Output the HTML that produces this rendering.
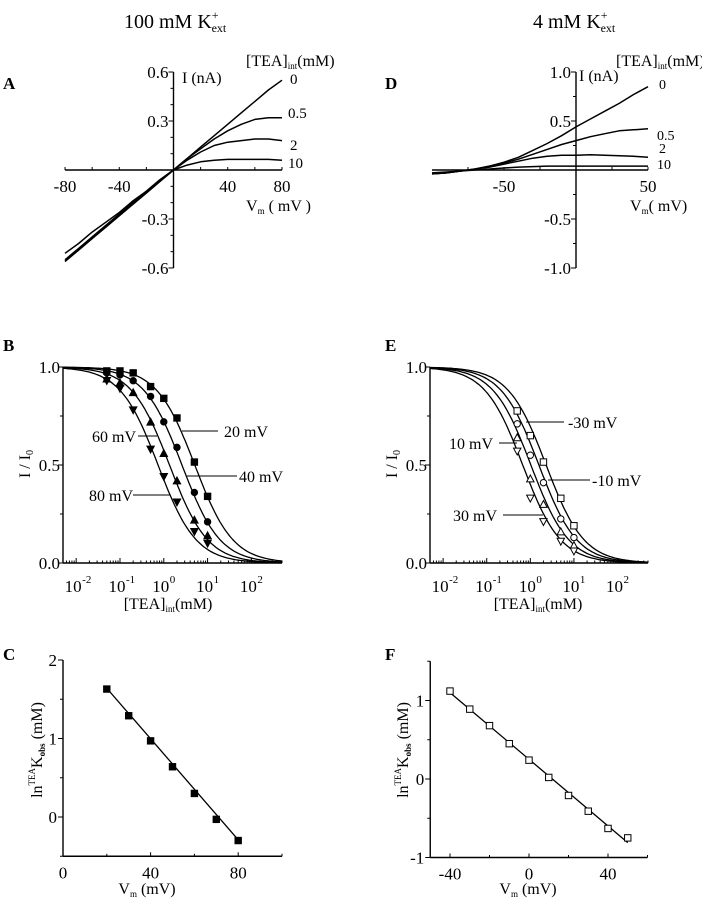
<!DOCTYPE html>
<html><head><meta charset="utf-8"><style>
html,body{margin:0;padding:0;background:#fff;}
svg{display:block;font-family:"Liberation Serif",serif;}
text{fill:#000;}
</style></head><body>
<svg id="fig" width="702" height="900" viewBox="0 0 702 900" xmlns="http://www.w3.org/2000/svg">
<text x="124" y="28" font-size="20">100 mM K<tspan font-size="12" dy="-9">+</tspan><tspan font-size="12" dy="13" dx="-7">ext</tspan></text>
<text x="533" y="28" font-size="20">4 mM K<tspan font-size="12" dy="-9">+</tspan><tspan font-size="12" dy="13" dx="-7">ext</tspan></text>
<text x="3" y="89" font-size="17" font-weight="bold">A</text>
<text x="385" y="89" font-size="17" font-weight="bold">D</text>
<text x="3" y="351" font-size="17" font-weight="bold">B</text>
<text x="385" y="351" font-size="17" font-weight="bold">E</text>
<text x="3" y="660" font-size="17" font-weight="bold">C</text>
<text x="385" y="660" font-size="17" font-weight="bold">F</text>
<text x="246" y="66" font-size="16">[TEA]<tspan font-size="9" dy="3">int</tspan><tspan dy="-3">(mM)</tspan></text>
<text x="182" y="83" font-size="16">I (nA)</text>
<text x="246" y="211" font-size="16">V<tspan font-size="9" dy="3">m</tspan><tspan dy="-3"> ( mV )</tspan></text>
<text x="290" y="84" font-size="15">0</text>
<text x="288" y="118" font-size="15">0.5</text>
<text x="290" y="150" font-size="15">2</text>
<text x="288" y="168" font-size="15">10</text>
<text x="616" y="66" font-size="16">[TEA]<tspan font-size="9" dy="3">int</tspan><tspan dy="-3">(mM)</tspan></text>
<text x="579" y="81" font-size="16">I (nA)</text>
<text x="630" y="211" font-size="16">V<tspan font-size="9" dy="3">m</tspan><tspan dy="-3">( mV)</tspan></text>
<text x="659" y="89" font-size="14">0</text>
<text x="657" y="140" font-size="14">0.5</text>
<text x="659" y="153" font-size="14">2</text>
<text x="657" y="169" font-size="14">10</text>
<text transform="translate(30,464) rotate(-90)" text-anchor="middle" font-size="16">I / I<tspan font-size="10" dy="3">0</tspan></text>
<text x="168" y="609" text-anchor="middle" font-size="16">[TEA]<tspan font-size="9" dy="3">int</tspan><tspan dy="-3">(mM)</tspan></text>
<text x="224" y="437" font-size="16">20 mV</text>
<text x="239" y="482" font-size="16">40 mV</text>
<text x="92" y="442" font-size="16">60 mV</text>
<text x="89" y="501" font-size="16">80 mV</text>
<text transform="translate(397,464) rotate(-90)" text-anchor="middle" font-size="16">I / I<tspan font-size="10" dy="3">0</tspan></text>
<text x="538" y="609" text-anchor="middle" font-size="16">[TEA]<tspan font-size="9" dy="3">int</tspan><tspan dy="-3">(mM)</tspan></text>
<text x="568" y="428" font-size="16">-30 mV</text>
<text x="449" y="449" font-size="16">10 mV</text>
<text x="592" y="486" font-size="16">-10 mV</text>
<text x="453" y="521" font-size="16">30 mV</text>
<text transform="translate(42,750) rotate(-90)" text-anchor="middle" font-size="16">ln<tspan font-size="9" dy="-7">TEA</tspan><tspan dy="7">K</tspan><tspan font-size="9" dy="3" font-weight="bold">obs</tspan><tspan dy="-3"> (mM)</tspan></text>
<text x="147" y="894" text-anchor="middle" font-size="16">V<tspan font-size="9" dy="3">m</tspan><tspan dy="-3"> (mV)</tspan></text>
<text transform="translate(408,750) rotate(-90)" text-anchor="middle" font-size="16">ln<tspan font-size="9" dy="-7">TEA</tspan><tspan dy="7">K</tspan><tspan font-size="9" dy="3" font-weight="bold">obs</tspan><tspan dy="-3"> (mM)</tspan></text>
<text x="528" y="894" text-anchor="middle" font-size="16">V<tspan font-size="9" dy="3">m</tspan><tspan dy="-3"> (mV)</tspan></text>
</svg>
<script>
// ---- Panel A data ----
const aVolt = [-80,-70,-60,-50,-40,-30,-20,-10,0,10,20,30,40,50,60,70,80];
const aCurve0 = [-0.51,-0.45,-0.38,-0.32,-0.26,-0.19,-0.13,-0.06,0,0.07,0.14,0.21,0.28,0.35,0.42,0.49,0.55];
const aCurve05 = [-0.56,-0.49,-0.42,-0.35,-0.28,-0.21,-0.14,-0.07,0,0.07,0.13,0.19,0.24,0.28,0.31,0.32,0.32];
const aCurve2 = [-0.56,-0.49,-0.42,-0.35,-0.28,-0.21,-0.14,-0.07,0,0.06,0.11,0.15,0.17,0.18,0.19,0.19,0.18];
const aCurve10 = [-0.55,-0.48,-0.41,-0.34,-0.27,-0.2,-0.13,-0.06,0,0.03,0.05,0.06,0.065,0.065,0.065,0.065,0.06];
const aXTicks = ["-80","-40","40","80"];
const aYTicks = ["0.6","0.3","-0.3","-0.6"];
// ---- Panel D data ----
const dVolt = [-100,-90,-80,-70,-60,-50,-40,-30,-20,-10,0,10,20,30,40,50];
const dCurve0 = [-0.04,-0.03,-0.01,0.01,0.04,0.08,0.13,0.2,0.27,0.35,0.44,0.52,0.6,0.68,0.77,0.85];
const dCurve05 = [-0.04,-0.03,-0.01,0.01,0.04,0.07,0.11,0.16,0.21,0.26,0.30,0.34,0.37,0.40,0.41,0.42];
const dCurve2 = [-0.04,-0.03,-0.01,0.01,0.03,0.06,0.09,0.12,0.14,0.15,0.15,0.155,0.15,0.145,0.14,0.13];
const dCurve10 = [-0.03,-0.02,-0.01,0.0,0.01,0.02,0.03,0.035,0.04,0.04,0.04,0.04,0.04,0.04,0.04,0.04];
const dXTicks = ["-50","50"];
const dYTicks = ["1.0","0.5","-0.5","-1.0"];
// ---- Panel B data ----
const bConc = [0.05,0.1,0.2,0.5,1,2,5,10];
const b20 = [0.98,0.98,0.97,0.90,0.84,0.74,0.515,0.34];
const b40 = [0.97,0.96,0.93,0.85,0.72,0.59,0.36,0.21];
const b60 = [0.94,0.92,0.87,0.72,0.56,0.42,0.22,0.14];
const b80 = [0.93,0.89,0.78,0.58,0.44,0.31,0.16,0.10];
const bK = [5.1,2.6,1.35,0.74];
// ---- Panel E data ----
const eConc = [0.5,1,2,5,10];
const eM30 = [0.776,0.65,0.515,0.33,0.19];
const eM10 = [0.71,0.55,0.41,0.225,0.13];
const eP10 = [0.64,0.43,0.30,0.16,0.09];
const eP30 = [0.57,0.33,0.21,0.11,0.06];
const eK = [2.3,1.57,1.03,0.67];
const logTicks = ["-2","-1","0","1","2"];
const yTicks01 = ["1.0","0.5","0.0"];
// ---- Panel C data ----
const cVolt = [20,30,40,50,60,70,80];
const cLnK = [1.63,1.29,0.97,0.64,0.30,-0.03,-0.30];
const cFit = [1.64,-0.29];
const cXTicks = ["0","40","80"];
const cYTicks = ["2","1","0"];
// ---- Panel F data ----
const fVolt = [-40,-30,-20,-10,0,10,20,30,40,50];
const fLnK = [1.12,0.89,0.68,0.45,0.24,0.02,-0.21,-0.41,-0.63,-0.75];
const fFit = [1.10,-0.81];
const fXTicks = ["-40","0","40"];
const fYTicks = ["1","0","-1"];

const NS = "http://www.w3.org/2000/svg";
const svg = document.getElementById('fig');
function mk(tag, name, parent){
  const el = document.createElementNS(NS, tag);
  
  
  (parent || svg).appendChild(el);
  return el;
}
function ln(x1,y1,x2,y2,name,w){
  const l = mk('line', name);
  l.setAttribute('x1',x1); l.setAttribute('y1',y1); l.setAttribute('x2',x2); l.setAttribute('y2',y2);
  l.setAttribute('stroke','#000'); l.setAttribute('stroke-width', w||1.4);
  return l;
}
function tx(x,y,s,name,anchor,size){
  const t = mk('text', name);
  t.setAttribute('x',x); t.setAttribute('y',y);
  t.setAttribute('text-anchor',anchor||'middle');
  t.setAttribute('font-size',size||17);
  t.textContent = s;
  return t;
}
function poly(pts,name,w){
  const p = mk('polyline', name);
  p.setAttribute('points', pts.map(q=>q[0].toFixed(1)+','+q[1].toFixed(1)).join(' '));
  p.setAttribute('fill','none'); p.setAttribute('stroke','#000'); p.setAttribute('stroke-width', w||1.4);
  p.setAttribute('stroke-linejoin','round');
  return p;
}
function marker(type, x, y, filled, name){
  const s = 3.2;
  let el;
  if(type==='sq'){ el = mk('rect', name); el.setAttribute('x',x-s); el.setAttribute('y',y-s); el.setAttribute('width',2*s); el.setAttribute('height',2*s); }
  else if(type==='ci'){ el = mk('circle', name); el.setAttribute('cx',x); el.setAttribute('cy',y); el.setAttribute('r',s); }
  else if(type==='tu'){ el = mk('polygon', name); el.setAttribute('points',`${x},${y-s-0.5} ${x+s+0.5},${y+s} ${x-s-0.5},${y+s}`); }
  else { el = mk('polygon', name); el.setAttribute('points',`${x},${y+s+0.5} ${x+s+0.5},${y-s} ${x-s-0.5},${y-s}`); }
  el.setAttribute('fill', filled ? '#000' : '#fff');
  el.setAttribute('stroke','#000'); el.setAttribute('stroke-width', 1);
}

// ===== Panel A =====
const xA = v => 173.5 + v*1.356;
const yA = i => 170 - i*163.3;
ln(xA(-80),yA(0),xA(80),yA(0),'a-x-axis');
ln(xA(0),yA(0.6),xA(0),yA(-0.6),'a-y-axis');
for(let v=-80; v<=80; v+=20){ if(v!==0) ln(xA(v),yA(0),xA(v),yA(0)-3,'a-x-tick',1); }
for(let k=-6; k<=6; k++){ if(k!==0) ln(xA(0),yA(k/10),xA(0)-(k%3===0?5:3),yA(k/10),'a-y-tick',1); }
aXTicks.forEach(s=>tx(xA(+s),yA(0)+22,s,'a-x-tick-label'));
aYTicks.forEach(s=>tx(xA(0)-5,yA(+s)+6,s,'a-y-tick-label','end'));
[[aCurve0,'a-curve-0'],[aCurve05,'a-curve-0.5'],[aCurve2,'a-curve-2'],[aCurve10,'a-curve-10']].forEach(([d,n])=>{
  poly(aVolt.map((v,i)=>[xA(v),yA(d[i])]), n, 1.5);
});

// ===== Panel D =====
const xD = v => 576 + v*1.44;
const yD = i => 170 - i*98;
ln(xD(-100),yD(0),xD(50),yD(0),'d-x-axis');
ln(xD(0),yD(1),xD(0),yD(-1),'d-y-axis');
for(let v=-75; v<=50; v+=25){ if(v!==0) ln(xD(v),yD(0),xD(v),yD(0)-3,'d-x-tick',1); }
for(let k=-4; k<=4; k++){ if(k!==0) ln(xD(0),yD(k/4),xD(0)-(k%2===0?5:3),yD(k/4),'d-y-tick',1); }
dXTicks.forEach(s=>tx(xD(+s),yD(0)+22,s,'d-x-tick-label'));
dYTicks.forEach(s=>tx(xD(0)-5,yD(+s)+6,s,'d-y-tick-label','end'));
[[dCurve0,'d-curve-0'],[dCurve05,'d-curve-0.5'],[dCurve2,'d-curve-2'],[dCurve10,'d-curve-10']].forEach(([d,n])=>{
  poly(dVolt.map((v,i)=>[xD(v),yD(d[i])]), n, 1.5);
});

// ===== Log panels B & E =====
function logPanel(pfx, x0, dec, conc, series, Ks, types, filled){
  const X = c => x0 + Math.log10(c/0.005)*dec;
  const Y = r => 563 - r*196;
  ln(x0, Y(0), X(500), Y(0), pfx+'-x-axis');
  ln(x0, Y(0), x0, Y(1), pfx+'-y-axis');
  for(let e=-3; e<=2; e++){
    for(let m=1; m<=9; m++){
      const c = m*Math.pow(10,e);
      if(c < 0.005-1e-9 || c > 500+1e-9) continue;
      ln(X(c), Y(0), X(c), Y(0)-(m===1?5:2.5), pfx+'-x-tick', 1);
    }
  }
  [0,0.25,0.5,0.75,1].forEach(r=>ln(x0, Y(r), x0-(r%0.5===0?5:3), Y(r), pfx+'-y-tick', 1));
  logTicks.forEach(s=>{
    const x = X(Math.pow(10,+s));
    tx(x-3, Y(0)+29, '10', pfx+'-x-tick-label', 'middle', 17);
    tx(x+6, Y(0)+20, s, pfx+'-x-tick-exponent', 'start', 11);
  });
  yTicks01.forEach(s=>tx(x0-3, Y(+s)+6, s, pfx+'-y-tick-label', 'end'));
  Ks.forEach((K,k)=>{
    const pts = [];
    for(let i=0;i<=120;i++){ const c = 0.005*Math.pow(10, i/120*5); pts.push([X(c), Y(1/(1+c/K))]); }
    poly(pts, pfx+'-fit-curve', 1.3);
  });
  series.forEach((d,k)=>{
    d.forEach((r,i)=>marker(types[k], X(conc[i]), Y(r), filled, pfx+'-data-point'));
  });
}
logPanel('b', 63, 43.8, bConc, [b20,b40,b60,b80], bK, ['sq','ci','tu','td'], true);
logPanel('e', 430, 43.6, eConc, [eM30,eM10,eP10,eP30], eK, ['sq','ci','tu','td'], false);
ln(182,431,218,431,'b-leader-20mV',1); ln(187,476,237,476,'b-leader-40mV',1);
ln(138,436,157,436,'b-leader-60mV',1); ln(133,495,170,495,'b-leader-80mV',1);
ln(526,422,564,422,'e-leader-minus30mV',1); ln(499,443,517,443,'e-leader-10mV',1);
ln(548,480,590,480,'e-leader-minus10mV',1); ln(503,515,543,515,'e-leader-30mV',1);

// ===== Panel C =====
const xC = v => 63 + v*2.19;
const yC = k => 817 - k*78.5;
ln(xC(0), yC(-0.5), xC(100), yC(-0.5), 'c-x-axis');
ln(xC(0), yC(-0.5), xC(0), yC(2), 'c-y-axis');
[20,40,60,80,100].forEach(v=>ln(xC(v), yC(-0.5), xC(v), yC(-0.5)-(v%40===0?4:2.5), 'c-x-tick', 1));
[-0.5,0,0.5,1,1.5,2].forEach(k=>ln(xC(0), yC(k), xC(0)-(k%1===0?5:3), yC(k), 'c-y-tick', 1));
cXTicks.forEach(s=>tx(xC(+s), yC(-0.5)+22, s, 'c-x-tick-label'));
cYTicks.forEach(s=>tx(xC(0)-6, yC(+s)+6, s, 'c-y-tick-label', 'end'));
ln(xC(cVolt[0]), yC(cFit[0]), xC(cVolt[cVolt.length-1]), yC(cFit[1]), 'c-fit-line', 1.3);
cVolt.forEach((v,i)=>marker('sq', xC(v), yC(cLnK[i]), true, 'c-data-point'));

// ===== Panel F =====
const xF = v => 529 + v*1.975;
const yF = k => 779 - k*78.5;
ln(xF(-50), yF(-1), xF(60), yF(-1), 'f-x-axis');
ln(xF(-50), yF(-1), xF(-50), yF(1.5), 'f-y-axis');
[-40,-20,0,20,40,60].forEach(v=>ln(xF(v), yF(-1), xF(v), yF(-1)-(v%40===0?4:2.5), 'f-x-tick', 1));
[-1,-0.5,0,0.5,1,1.5].forEach(k=>ln(xF(-50), yF(k), xF(-50)-(k%1===0?5:3), yF(k), 'f-y-tick', 1));
fXTicks.forEach(s=>tx(xF(+s), yF(-1)+22, s, 'f-x-tick-label'));
fYTicks.forEach(s=>tx(xF(-50)-6, yF(+s)+6, s, 'f-y-tick-label', 'end'));
ln(xF(fVolt[0]), yF(fFit[0]), xF(fVolt[fVolt.length-1]), yF(fFit[1]), 'f-fit-line', 1.3);
fVolt.forEach((v,i)=>marker('sq', xF(v), yF(fLnK[i]), false, 'f-data-point'));
</script>
</body></html>
